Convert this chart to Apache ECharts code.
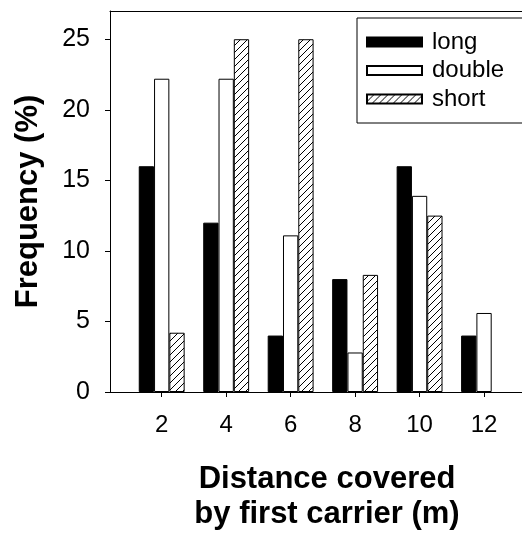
<!DOCTYPE html>
<html>
<head>
<meta charset="utf-8">
<script src="https://cdn.jsdelivr.net/npm/echarts@6/dist/echarts.min.js"></script>
<style>html,body{margin:0;padding:0;background:#fff;overflow:hidden;}#c{width:522px;height:533px;}</style>
</head>
<body>
<div id="c"></div>
<script>
var categories = [2, 4, 6, 8, 10, 12];
var longVals = [16, 12, 4, 8, 16, 4];
var doubleVals = [22.2, 22.2, 11.1, 2.8, 13.9, 5.6];
var shortVals = [4.2, 25, 25, 8.3, 12.5, 0];
var yTicks = [0, 5, 10, 15, 20, 25];

function pairs(vals) {
  var out = [];
  categories.forEach(function (c, i) { if (vals[i] > 0) out.push([c, vals[i]]); });
  return out;
}

var pc = document.createElement('canvas');
pc.width = 7; pc.height = 7;
var g = pc.getContext('2d');
g.fillStyle = '#fff'; g.fillRect(0, 0, 7, 7);
g.strokeStyle = '#000'; g.lineWidth = 1;
g.beginPath();
g.moveTo(-1, 8); g.lineTo(8, -1);
g.moveTo(-1, 1); g.lineTo(1, -1);
g.moveTo(6, 8); g.lineTo(8, 6);
g.stroke();

var font = "'Liberation Sans', Arial, sans-serif";
var chart = echarts.init(document.getElementById('c'));
var xMin = 0.396, xMax = 13.86;
chart.setOption({
  animation: false,
  backgroundColor: '#fff',
  textStyle: { fontFamily: font },
  grid: { left: 110, top: 11, width: 434, height: 381, outerBoundsMode: 'none', containLabel: false },
  legend: {
    orient: 'vertical', left: 357, top: 18,
    itemWidth: 55, itemHeight: 9, itemGap: 4.5,
    padding: [12, 80, 12, 9],
    borderColor: '#000', borderWidth: 1,
    textStyle: { fontSize: 24, color: '#000', fontFamily: font, padding: [0, 0, 0, 5] },
    icon: 'rect',
    data: ['long', 'double', 'short']
  },
  xAxis: [{
    type: 'value', min: xMin, max: xMax,
    name: 'Distance covered\nby first carrier (m)', nameLocation: 'middle', nameGap: 70,
    nameTextStyle: { fontSize: 31, fontWeight: 'bold', color: '#000', fontFamily: font, lineHeight: 35 },
    axisLine: { show: true, onZero: false, lineStyle: { color: '#000', width: 1 } },
    axisTick: { show: true, length: 5, lineStyle: { color: '#000' }, customValues: categories },
    axisLabel: { fontSize: 24, color: '#000', margin: 21, customValues: categories, fontFamily: font },
    splitLine: { show: false }
  }, {
    type: 'value', min: xMin, max: xMax, position: 'top',
    axisLine: { show: true, onZero: false, lineStyle: { color: '#000', width: 1 } },
    axisTick: { show: false }, axisLabel: { show: false }, splitLine: { show: false }
  }],
  yAxis: {
    type: 'value', min: 0, max: 27,
    name: 'Frequency (%)', nameLocation: 'middle', nameGap: 66,
    nameTextStyle: { fontSize: 31, fontWeight: 'bold', color: '#000', fontFamily: font },
    axisLine: { show: true, onZero: false, lineStyle: { color: '#000', width: 1 } },
    axisTick: { show: true, length: 5, lineStyle: { color: '#000' }, customValues: yTicks },
    axisLabel: { fontSize: 25, color: '#000', margin: 20, customValues: yTicks, fontFamily: font },
    splitLine: { show: false }
  },
  series: [{
    name: 'long', type: 'bar', barWidth: 15.3, barGap: '0%',
    itemStyle: { color: '#000', borderColor: '#000', borderWidth: 1 },
    data: pairs(longVals)
  }, {
    name: 'double', type: 'bar', barWidth: 15.3, barGap: '0%',
    itemStyle: { color: '#fff', borderColor: '#000', borderWidth: 1 },
    data: pairs(doubleVals)
  }, {
    name: 'short', type: 'bar', barWidth: 15.3, barGap: '0%',
    itemStyle: { color: { image: pc, repeat: 'repeat' }, borderColor: '#000', borderWidth: 1 },
    data: pairs(shortVals)
  }]
});
</script>
</body>
</html>
